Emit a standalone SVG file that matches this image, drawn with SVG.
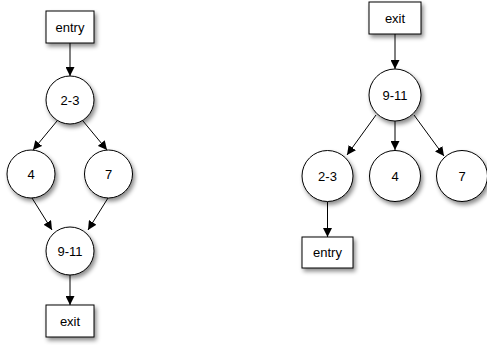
<svg xmlns="http://www.w3.org/2000/svg" width="487" height="345" viewBox="0 0 487 345">
<defs>
<filter id="sh" x="-30%" y="-30%" width="170%" height="170%">
<feDropShadow dx="2" dy="3" stdDeviation="2" flood-color="#000" flood-opacity="0.45"/>
</filter>
<marker id="ah" viewBox="0 0 10 10" refX="10" refY="5" markerWidth="9" markerHeight="9" markerUnits="userSpaceOnUse" orient="auto">
<path d="M0,0 L10,5 L0,10 z" fill="#000"/>
</marker>
<style>
.n{fill:#fff;stroke:#000;stroke-width:1;filter:url(#sh)}
.t{font-family:"Liberation Sans",Arial,sans-serif;font-size:13px;fill:#000;text-anchor:middle;dominant-baseline:central}
.e{stroke:#000;stroke-width:1;fill:none;marker-end:url(#ah)}
</style>
</defs>
<g id="connectors">
<line class="e" x1="70" y1="43" x2="70" y2="76"/>
<line class="e" x1="57" y1="121" x2="33" y2="150"/>
<line class="e" x1="83" y1="121" x2="107" y2="150"/>
<line class="e" x1="32" y1="198" x2="52" y2="230"/>
<line class="e" x1="108" y1="198" x2="88" y2="230"/>
<line class="e" x1="70" y1="275" x2="70" y2="305"/>
<line class="e" x1="395" y1="34" x2="395" y2="69"/>
<line class="e" x1="376" y1="115" x2="347" y2="155"/>
<line class="e" x1="395" y1="121" x2="395" y2="150"/>
<line class="e" x1="414" y1="115" x2="444" y2="156"/>
<line class="e" x1="327.5" y1="202" x2="327.5" y2="237"/>
</g>
<g id="L_entry"><rect class="n" x="46" y="11" width="48" height="32"/><text class="t" x="70" y="27">entry</text></g>
<g id="L_2-3"><circle class="n" cx="70" cy="100" r="24"/><text class="t" x="70" y="100">2-3</text></g>
<g id="L_4"><circle class="n" cx="31" cy="174" r="24"/><text class="t" x="31" y="174">4</text></g>
<g id="L_7"><circle class="n" cx="108.5" cy="174" r="24"/><text class="t" x="108.5" y="174">7</text></g>
<g id="L_9-11"><circle class="n" cx="70" cy="251" r="24"/><text class="t" x="70" y="251">9-11</text></g>
<g id="L_exit"><rect class="n" x="46" y="305" width="48" height="32"/><text class="t" x="70" y="321">exit</text></g>
<g id="R_exit"><rect class="n" x="369" y="2" width="52" height="32"/><text class="t" x="395" y="18">exit</text></g>
<g id="R_9-11"><circle class="n" cx="395" cy="95" r="26"/><text class="t" x="395" y="95">9-11</text></g>
<g id="R_2-3"><circle class="n" cx="327.5" cy="176" r="25.5"/><text class="t" x="327.5" y="176">2-3</text></g>
<g id="R_4"><circle class="n" cx="395" cy="176" r="25.5"/><text class="t" x="395" y="176">4</text></g>
<g id="R_7"><circle class="n" cx="462" cy="176" r="25.5"/><text class="t" x="462" y="176">7</text></g>
<g id="R_entry"><rect class="n" x="302" y="237" width="51" height="31"/><text class="t" x="327.5" y="252.5">entry</text></g>
</svg>
